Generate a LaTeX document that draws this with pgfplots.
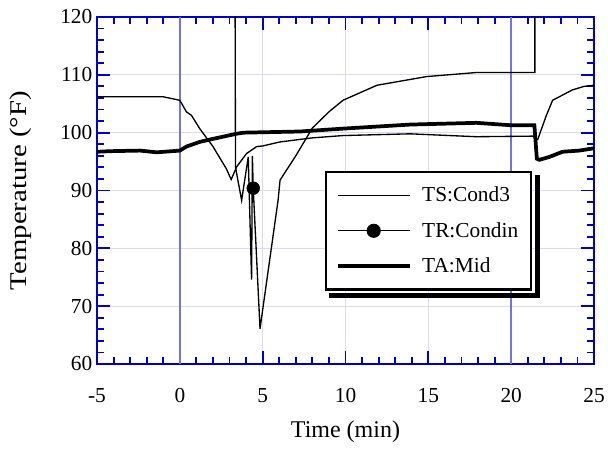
\documentclass[border=0pt]{standalone}
\usepackage{fontspec}
\setmainfont{Liberation Serif}
\usepackage{graphicx}
\usepackage{pgfplots}
\pgfplotsset{compat=1.18}
\definecolor{axblue}{RGB}{0,0,205}
\definecolor{refblue}{RGB}{115,115,230}
\definecolor{gridc}{RGB}{218,218,242}
\newcommand{\chartfont}{\fontsize{16}{19}\selectfont}
\newcommand{\labelfont}{\fontsize{18}{21}\selectfont}

\begin{document}
\begin{tikzpicture}
\begin{axis}[name=ax, scale only axis, width=372.75pt, height=260.25pt,
  xmin=-5, xmax=25, ymin=60, ymax=120,
  xtick={-5,0,...,25}, ytick={60,70,...,120},
  minor x tick num=4, minor y tick num=4,
  tick align=inside, xtick pos=both, ytick pos=both,
  xticklabel pos=lower, yticklabel pos=left,
  major tick length=9.75pt, minor tick length=5.5pt,
  tick style={line width=1.4pt, color=axblue},
  axis line style={line width=1.6pt, color=axblue},
  grid=major, major grid style={color=gridc, line width=0.6pt},
  /pgf/number format/assume math mode=true,
  tick label style={font=\chartfont},
  xticklabel style={anchor=base, yshift=-29pt},
  label style={font=\labelfont},
  xlabel={Time (min)}, ylabel={\scalebox{1.2}[1]{Temperature (°F)}},
  xlabel style={at={(axis description cs:0.5,-0.213)}, anchor=base},
  ylabel style={at={(axis description cs:-0.153,0.5)}, anchor=center},
  legend style={name=leg, font=\chartfont, at={(0.458,0.556)}, anchor=north west,
    draw=black, line width=1.8pt, fill=white, inner xsep=7.5pt, inner ysep=9pt,
    row sep=10pt, column sep=6pt},
  legend cell align=left,
  legend image code/.code={\draw[mark repeat=2,mark phase=2,#1] plot coordinates {(0pt,0pt) (27pt,0pt) (54pt,0pt)};},
]
% reference lines at 0 and 20 min
\addplot[refblue, line width=1.1pt, forget plot] coordinates {(0,60) (0,120)};
\addplot[refblue, line width=1.1pt, forget plot] coordinates {(20,60) (20,120)};

% TS:Cond3
\addplot[black, line width=1pt] coordinates {
(-5,106.2) (-1,106.2) (0,105.6) (0.4,103.6) (0.7,103.0) (1.2,100.7) (2.0,97.6)
(2.8,93.8) (3.1,91.9) (3.43,94.1) (4.03,96.4) (4.64,97.6) (5.0,97.7) (6.05,98.4)
(8.0,99.1) (9.85,99.5) (13.9,99.8) (17.9,99.3) (21.3,99.4) (21.6,98.8)
(22.1,102.8) (22.5,105.6) (23.1,106.5) (23.7,107.4) (24.4,108.0) (25,108.2)};

% TR:Condin
\addlegendimage{black, line width=1pt, mark=*, mark size=4.8pt}
\addplot[black, line width=1pt, forget plot] coordinates {
(3.33,130) (3.36,94) (3.73,88.3) (4.13,95.8) (4.33,74.6) (4.38,96) (4.43,90.4)
(4.84,66.1) (5.93,88.3) (6.05,91.8) (7.0,96.0) (8.0,100.8) (9.0,103.6)
(9.85,105.6) (11.9,108.2) (14.9,109.7) (17.9,110.4) (21.43,110.4) (21.43,130)};
\addplot[black, only marks, mark=*, mark size=4.8pt, forget plot] coordinates {(4.43,90.4)};

% TA:Mid
\addplot[black, line width=2.8pt] coordinates {
(-5,96.7) (-4.2,96.8) (-2.4,96.9) (-1.4,96.6) (0,96.9) (0.4,97.6) (1.2,98.4)
(1.8,98.8) (2.6,99.3) (3.4,99.8) (3.83,100) (7.25,100.2) (9.85,100.7)
(13.9,101.4) (17.9,101.7) (19.9,101.3) (21.4,101.3) (21.55,95.5) (21.7,95.3)
(22.3,95.8) (23.1,96.7) (24.1,96.9) (25,97.3)};

\legend{TS:Cond3, TR:Condin, TA:Mid}
\end{axis}
% legend drop shadow
\draw[black, line width=4pt, miter limit=10]
  ([xshift=3.8pt, yshift=-3pt]leg.north east) |- ([xshift=3pt, yshift=-3.8pt]leg.south west);
\pgfresetboundingbox
\path ([xshift=-72.75pt, yshift=-63.75pt]ax.south west) rectangle ([xshift=10.5pt, yshift=12.75pt]ax.north east);
\end{tikzpicture}
\end{document}
